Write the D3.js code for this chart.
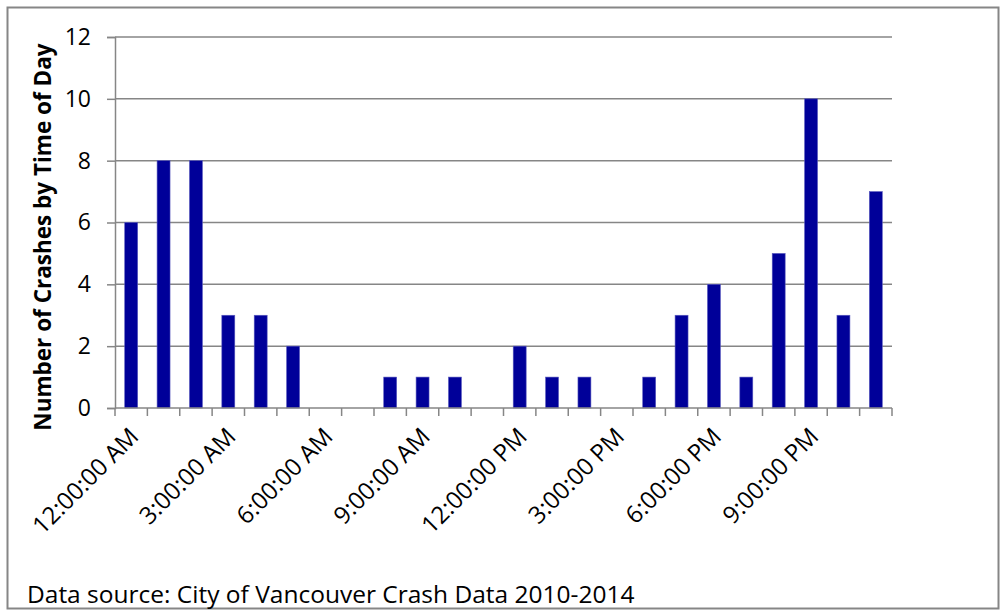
<!DOCTYPE html>
<html>
<head>
<meta charset="utf-8">
<script src="https://cdn.jsdelivr.net/npm/d3@7"></script>
<style>
  body { margin: 0; background: #fff; }
  svg { display: block; }
  text { font-family: "Open Sans", sans-serif; fill: #000; }
</style>
</head>
<body>
<svg id="chart" width="1001" height="615"></svg>
<script>
// hours of the day, one bar each
var hours = ["12:00:00 AM", "1:00:00 AM", "2:00:00 AM", "3:00:00 AM", "4:00:00 AM", "5:00:00 AM",
  "6:00:00 AM", "7:00:00 AM", "8:00:00 AM", "9:00:00 AM", "10:00:00 AM", "11:00:00 AM",
  "12:00:00 PM", "1:00:00 PM", "2:00:00 PM", "3:00:00 PM", "4:00:00 PM", "5:00:00 PM",
  "6:00:00 PM", "7:00:00 PM", "8:00:00 PM", "9:00:00 PM", "10:00:00 PM", "11:00:00 PM"];
var crashes = [6, 8, 8, 3, 3, 2, 0, 0, 1, 1, 1, 0, 2, 1, 1, 0, 1, 3, 4, 1, 5, 10, 3, 7];
var yTicks = [0, 2, 4, 6, 8, 10, 12];
var yTitle = "Number of Crashes by Time of Day";
var sourceNote = "Data source: City of Vancouver Crash Data 2010-2014";

var svg = d3.select("#chart");
// plot area (don't call it "top", window.top is taken)
var plotL = 115, plotR = 892, plotT = 37, plotB = 408;
var grey = "#868686";

// outer frame
svg.append("rect")
  .attr("x", 7.5).attr("y", 7.5)
  .attr("width", 991).attr("height", 601)
  .attr("fill", "#fff")
  .attr("stroke", grey).attr("stroke-width", 2);

var x = d3.scaleBand().domain(hours).range([plotL, plotR])
  .paddingInner(0.6).paddingOuter(0.3);
var y = d3.scaleLinear().domain([0, 12]).range([plotB, plotT]);
var step = x.step();

// gridlines
svg.append("g").selectAll("line")
  .data(yTicks.filter(function(d) { return d > 0; }))
  .enter().append("line")
    .attr("x1", plotL).attr("x2", plotR)
    .attr("y1", function(d) { return y(d); })
    .attr("y2", function(d) { return y(d); })
    .attr("stroke", grey).attr("stroke-width", 1.5);

// y axis
var yAxis = svg.append("g")
  .attr("transform", "translate(" + plotL + ",0)")
  .call(d3.axisLeft(y).tickValues(yTicks).tickSize(8).tickPadding(16));
yAxis.select(".domain").attr("stroke", grey).attr("stroke-width", 1.5);
yAxis.selectAll(".tick line").attr("stroke", grey).attr("stroke-width", 1.5);
yAxis.selectAll(".tick text")
  .style("font-family", "Open Sans, sans-serif")
  .style("font-size", "23px")
  .attr("fill", "#000");

// bars
svg.append("g").selectAll("rect")
  .data(crashes)
  .enter().append("rect")
    .attr("x", function(d, i) { return x(hours[i]); })
    .attr("y", function(d) { return y(d); })
    .attr("width", x.bandwidth())
    .attr("height", function(d) { return plotB - y(d); })
    .attr("fill", "#000099")
    .attr("stroke", "#5a5abf").attr("stroke-width", 0.6);

// x axis line and ticks at category boundaries
svg.append("line")
  .attr("x1", plotL).attr("x2", plotR)
  .attr("y1", plotB).attr("y2", plotB)
  .attr("stroke", grey).attr("stroke-width", 1.5);
svg.append("g").selectAll("line")
  .data(d3.range(hours.length + 1))
  .enter().append("line")
    .attr("x1", function(i) { return plotL + i * step; })
    .attr("x2", function(i) { return plotL + i * step; })
    .attr("y1", plotB).attr("y2", plotB + 8)
    .attr("stroke", grey).attr("stroke-width", 1.5);

// x labels, every 3rd hour, rotated
svg.append("g").selectAll("text")
  .data(hours.filter(function(d, i) { return i % 3 === 0; }))
  .enter().append("text")
    .attr("transform", function(d) {
      var cx = x(d) + x.bandwidth() / 2 + 3;
      return "translate(" + cx + "," + (plotB + 24) + ") rotate(-45)";
    })
    .attr("text-anchor", "end")
    .attr("dy", "0.35em")
    .style("font-size", "24px")
    .text(function(d) { return d; });

// y axis title
svg.append("text")
  .attr("transform", "translate(51,237) rotate(-90)")
  .attr("text-anchor", "middle")
  .style("font-size", "22.5px")
  .style("font-weight", "bold")
  .text(yTitle);

// source note
svg.append("text")
  .attr("x", 27).attr("y", 603)
  .style("font-size", "24.5px")
  .text(sourceNote);
</script>
</body>
</html>
